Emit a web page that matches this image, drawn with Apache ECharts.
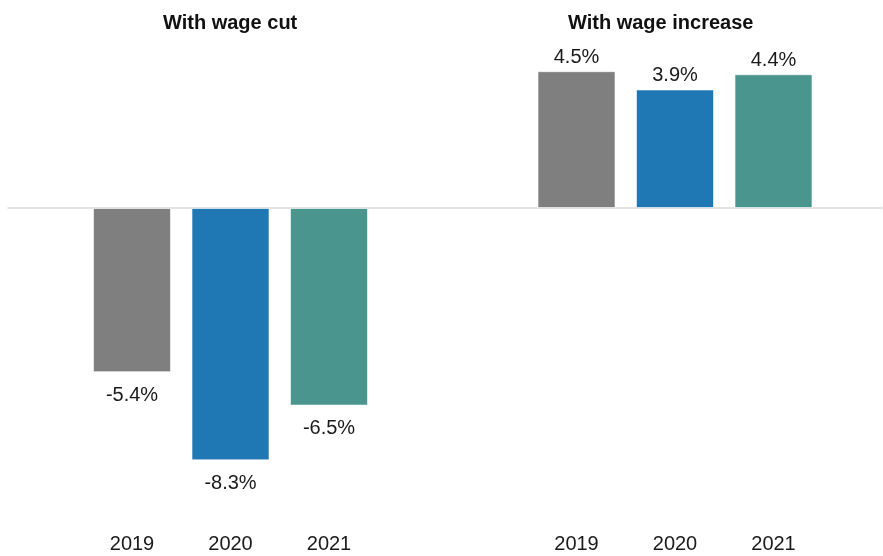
<!DOCTYPE html>
<html>
<head>
<meta charset="utf-8">
<script src="https://cdn.jsdelivr.net/npm/echarts@6/dist/echarts.min.js"></script>
<style>
  html, body { margin: 0; padding: 0; background: #ffffff; }
  #chart { width: 883px; height: 556px; }
</style>
</head>
<body>
<div id="chart"></div>
<script>
// Year categories shared by both panels
const years = ['2019', '2020', '2021'];
// Average wage change (%) among workers with a wage cut / with a wage increase
const wageCut = [-5.4, -8.3, -6.5];
const wageIncrease = [4.5, 3.9, 4.4];
const panelTitles = ['With wage cut', 'With wage increase'];
const barColors = ['#7f7f7f', '#1f77b4', '#4a968f'];

const FONT = '"Liberation Sans", Arial, sans-serif';
const yMin = -9, yMax = 5;
const gridTop = 56, gridHeight = 425.6;

function yAxisFor(gridIndex) {
  return {
    type: 'value', gridIndex, min: yMin, max: yMax,
    show: false, splitLine: { show: false }
  };
}

function panelSeries(values, gridIndex) {
  return {
    type: 'bar',
    xAxisIndex: gridIndex, yAxisIndex: gridIndex,
    barWidth: 78,
    data: values.map((v, i) => ({
      value: v,
      itemStyle: { color: barColors[i] },
      label: { position: v < 0 ? 'bottom' : 'top', distance: v < 0 ? 13 : 4 }
    })),
    itemStyle: { borderColor: 'rgba(255,255,255,0.6)', borderWidth: 1 },
    label: {
      show: true,
      formatter: p => p.value.toFixed(1) + '%',
      fontFamily: FONT, fontSize: 20, color: '#1a1a1a'
    },
    silent: true, animation: false
  };
}

const yearLabel = { margin: 53, fontFamily: FONT, fontSize: 20, color: '#1a1a1a' };
const titleStyle = { fontFamily: FONT, fontSize: 20, fontWeight: 'bold', color: '#111' };

const option = {
  backgroundColor: '#ffffff',
  animation: false,
  title: [
    { text: panelTitles[0], left: 158, top: 8, textStyle: titleStyle },
    { text: panelTitles[1], left: 563, top: 8, textStyle: titleStyle }
  ],
  grid: [
    // full-width strip carrying the zero baseline
    { left: 8, right: 1, top: gridTop, height: gridHeight },
    { left: 82.75, width: 295.5, top: gridTop, height: gridHeight },
    { left: 527.25, width: 295.5, top: gridTop, height: gridHeight }
  ],
  xAxis: [
    { type: 'category', gridIndex: 0, data: [''],
      axisLine: { onZero: true, lineStyle: { color: '#d9d9d9', width: 1.5 } },
      axisTick: { show: false }, axisLabel: { show: false } },
    { type: 'category', gridIndex: 1, data: years,
      axisLine: { show: false, onZero: false }, axisTick: { show: false },
      axisLabel: yearLabel },
    { type: 'category', gridIndex: 2, data: years,
      axisLine: { show: false, onZero: false }, axisTick: { show: false },
      axisLabel: yearLabel }
  ],
  yAxis: [yAxisFor(0), yAxisFor(1), yAxisFor(2)],
  series: [
    panelSeries(wageCut, 1),
    panelSeries(wageIncrease, 2)
  ]
};

echarts.init(document.getElementById('chart'), null, { renderer: 'canvas' }).setOption(option);
</script>
</body>
</html>
